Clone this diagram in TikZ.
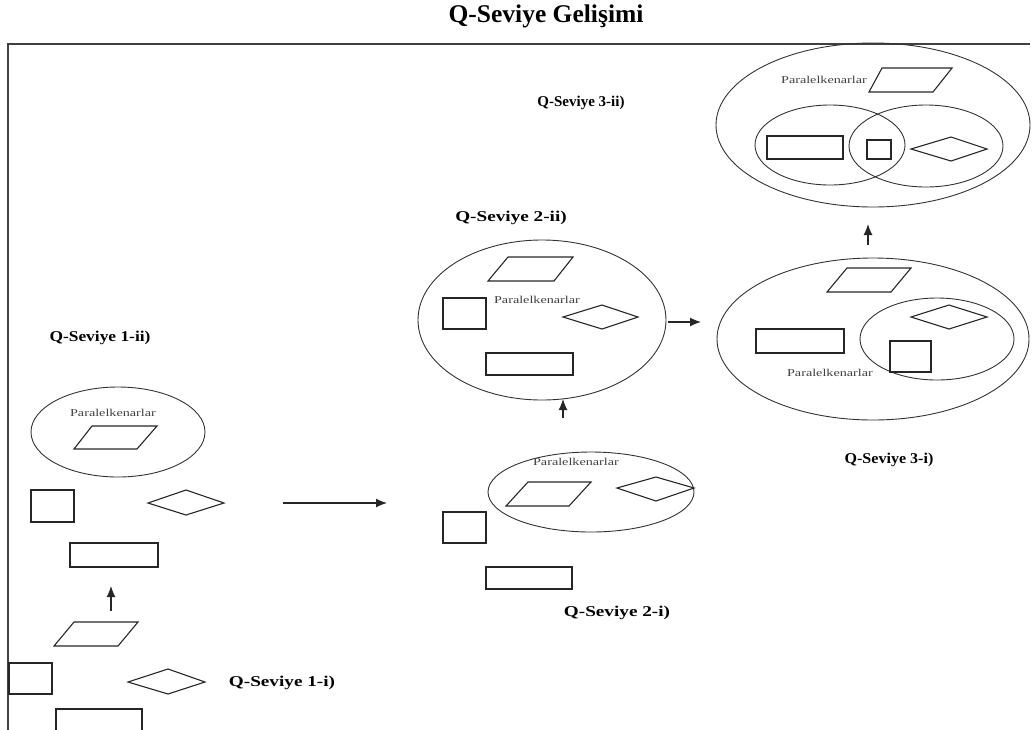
\documentclass[tikz,border=0pt]{standalone}
\usepackage{fontspec}
\setmainfont{Liberation Serif}
\usetikzlibrary{arrows.meta}
\begin{document}
\begin{tikzpicture}[x=1pt,y=-1pt,
  shp/.style={draw=black!85, line width=1.1pt, line join=miter},
  ell/.style={draw=black!80, line width=0.9pt},
  frm/.style={draw=black!75, line width=2pt},
  lbl/.style={font=\fontsize{15}{15}\selectfont\bfseries, inner sep=0pt},
  ttl/.style={font=\fontsize{25.5}{26}\selectfont\bfseries, inner sep=0pt},
  small/.style={font=\fontsize{10.5}{10}\selectfont, text=black!75, inner sep=0pt},
  arr/.style={-{Latex[length=11pt,width=9pt]}, line width=1.2pt, draw=black!85}]
\useasboundingbox (0,0) rectangle (1033,729);
\clip (0,0) rectangle (1033,729);

% title and frame
\node[ttl] (title) at (546,16) {Q-Seviye Gelişimi};
\draw[frm] (1030,44) -- (8,44) -- (8,735);

% ---------- Level labels ----------
\node[lbl] (l3ii) at (581,103) {Q-Seviye 3-ii)};
\node[lbl] (l2ii) at (511,218) {\scalebox{1.28}[1]{Q-Seviye 2-ii)}};
\node[lbl] (l1ii) at (100,338) {\scalebox{1.16}[1]{Q-Seviye 1-ii)}};
\node[lbl] (l3i) at (889,460) {\scalebox{1.07}[1]{Q-Seviye 3-i)}};
\node[lbl] (l2i) at (617,613) {\scalebox{1.28}[1]{Q-Seviye 2-i)}};
\node[lbl] (l1i) at (282,683) {\scalebox{1.28}[1]{Q-Seviye 1-i)}};

% ---------- Level 3-ii (top right) ----------
\draw[ell] (873,125) ellipse [x radius=157, y radius=82];
\draw[ell] (830,145) ellipse [x radius=75, y radius=40];
\draw[ell] (926,146) ellipse [x radius=77, y radius=41];
\node[small] (p3ii) at (824,80) {\scalebox{1.35}[1]{Paralelkenarlar}};
\draw[shp] (882,68) -- (952,68) -- (933,92) -- (869,92) -- cycle;
\draw[shp] (767,136) rectangle (843,159);
\draw[shp] (867,140) rectangle (891,159);
\draw[shp] (911,149) -- (951,137) -- (987,149) -- (951,161) -- cycle;

% ---------- Level 3-i (right) ----------
\draw[ell] (873,339) ellipse [x radius=156, y radius=81];
\draw[ell] (937,339) ellipse [x radius=77, y radius=41];
\draw[shp] (847,268) -- (911,268) -- (891,292) -- (827,292) -- cycle;
\draw[shp] (911,317) -- (949,305) -- (987,317) -- (949,329) -- cycle;
\draw[shp] (756,329) rectangle (844,353);
\draw[shp] (890,341) rectangle (931,372);
\node[small] (p3i) at (830,373) {\scalebox{1.35}[1]{Paralelkenarlar}};

% ---------- Level 2-ii (middle) ----------
\draw[ell] (542,320) ellipse [x radius=124, y radius=80];
\draw[shp] (508,257) -- (573,257) -- (554,281) -- (488,281) -- cycle;
\node[small] (p2ii) at (537,300) {\scalebox{1.35}[1]{Paralelkenarlar}};
\draw[shp] (443,298) rectangle (486,329);
\draw[shp] (563,317) -- (602,305) -- (638,317) -- (602,329) -- cycle;
\draw[shp] (486,353) rectangle (573,375);

% ---------- Level 2-i ----------
\draw[ell] (591,492) ellipse [x radius=103, y radius=40];
\node[small] (p2i) at (576,462) {\scalebox{1.35}[1]{Paralelkenarlar}};
\draw[shp] (528,482) -- (591,482) -- (569,506) -- (506,506) -- cycle;
\draw[shp] (617,488) -- (656,477) -- (694,488) -- (656,501) -- cycle;
\draw[shp] (443,512) rectangle (486,543);
\draw[shp] (486,567) rectangle (572,589);

% ---------- Level 1-ii ----------
\draw[ell] (118,432) ellipse [x radius=87, y radius=45];
\node[small] (p1ii) at (113,413) {\scalebox{1.35}[1]{Paralelkenarlar}};
\draw[shp] (92,426) -- (157,426) -- (137,449) -- (74,449) -- cycle;
\draw[shp] (31,490) rectangle (74,522);
\draw[shp] (148,503) -- (186,490) -- (224,503) -- (186,515) -- cycle;
\draw[shp] (70,543) rectangle (158,567);

% ---------- Level 1-i ----------
\draw[shp] (74,622) -- (138,622) -- (118,646) -- (54,646) -- cycle;
\draw[shp] (9,663) rectangle (52,694);
\draw[shp] (128,682) -- (168,669) -- (205,682) -- (168,694) -- cycle;
\draw[shp] (56,709) rectangle (142,740);

% ---------- arrows ----------
\coordinate (a1s) at (111,611); \coordinate (a1e) at (111,586);
\coordinate (a2s) at (283,503); \coordinate (a2e) at (387,503);
\coordinate (a3s) at (563,418); \coordinate (a3e) at (563,399);
\coordinate (a4s) at (668,322); \coordinate (a4e) at (701,322);
\coordinate (a5s) at (868,245); \coordinate (a5e) at (868,224);
\draw[arr] (a1s) -- (a1e);
\draw[arr] (a2s) -- (a2e);
\draw[arr] (a3s) -- (a3e);
\draw[arr] (a4s) -- (a4e);
\draw[arr] (a5s) -- (a5e);
\end{tikzpicture}
\end{document}
